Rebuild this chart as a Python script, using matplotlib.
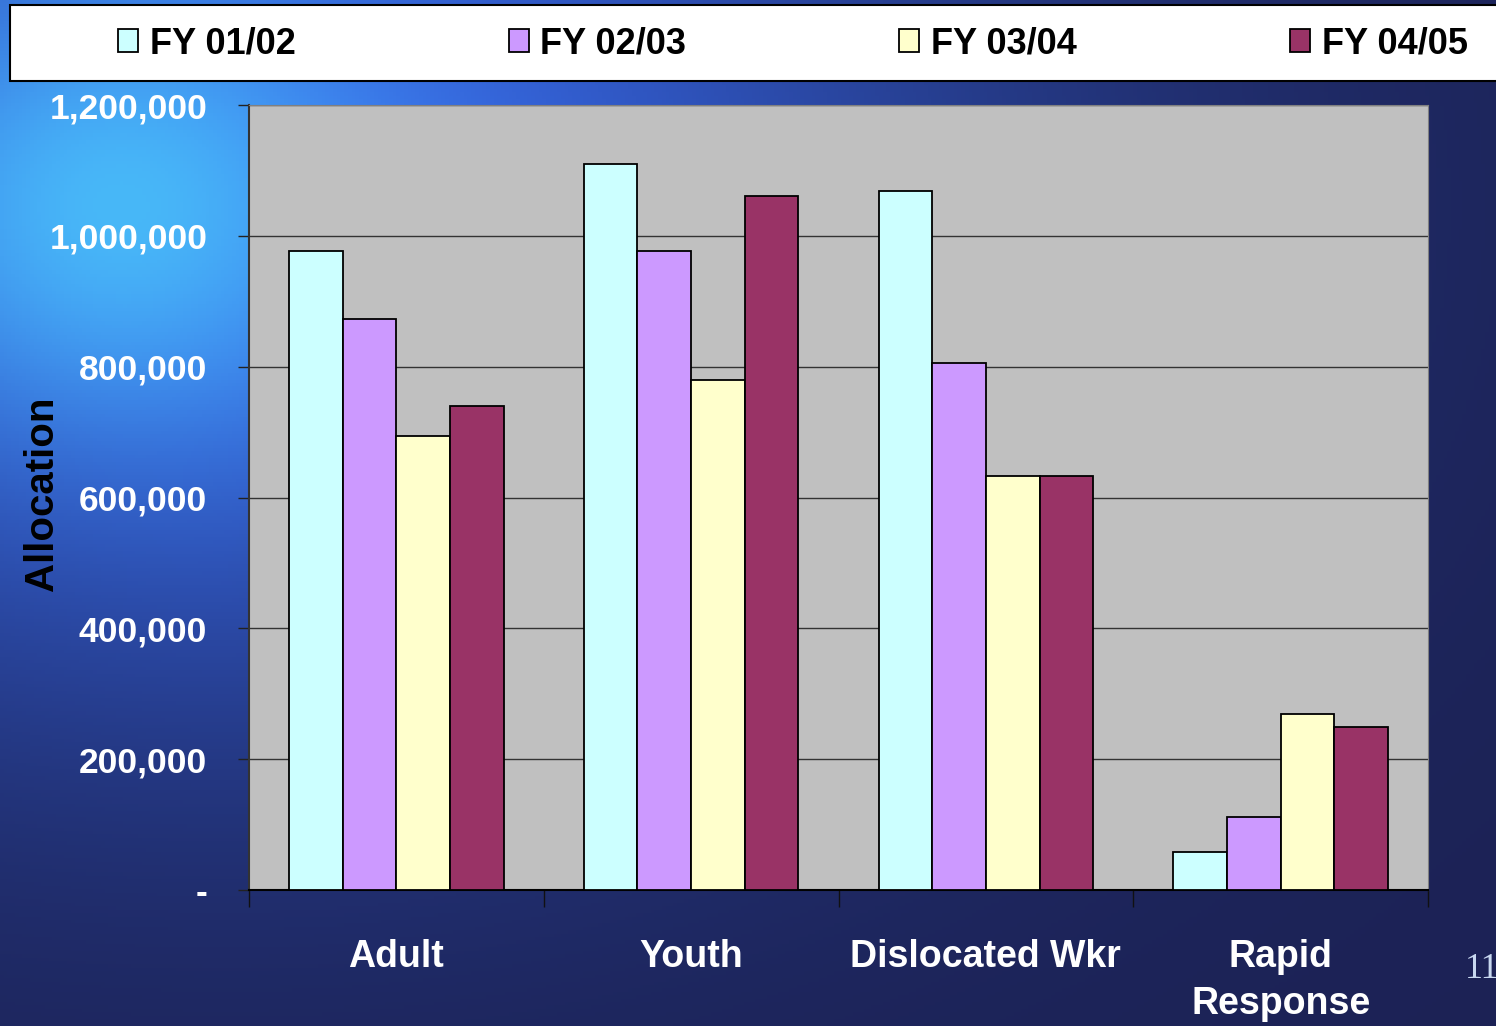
import numpy as np
import matplotlib
matplotlib.use("Agg")
import matplotlib.pyplot as plt
from matplotlib.patches import Rectangle
from matplotlib.ticker import FuncFormatter

plt.rcParams['font.family'] = ['Liberation Sans', 'DejaVu Sans']

# data
categories = ["Adult", "Youth", "Dislocated Wkr", "Rapid\nResponse"]
series = ["FY 01/02", "FY 02/03", "FY 03/04", "FY 04/05"]
fy0102 = [977000, 1110000, 1068000, 58000]
fy0203 = [873000, 977000, 806000, 112000]
fy0304 = [694000, 780000, 633000, 269000]
fy0405 = [740000, 1061000, 633000, 249000]
colors = ["#CCFFFF", "#CC99FF", "#FFFFCC", "#993366"]
yticks = [0, 200000, 400000, 600000, 800000, 1000000, 1200000]

values = [fy0102, fy0203, fy0304, fy0405]

W, H = 1496, 1026
fig = plt.figure(figsize=(W / 100, H / 100), dpi=100)

# slide background: blue gradient, bright top-left, dark navy elsewhere
bg = fig.add_axes([0, 0, 1, 1], zorder=-10)
u, v = np.meshgrid(np.linspace(0, 1, 400), np.linspace(0, 1, 300))
w = np.exp(-((u - 0.15) ** 2 / 0.5 ** 2 + (v - 0.2) ** 2 / 0.5 ** 2))
hl = np.exp(-((u - 0.08) ** 2 / 0.16 ** 2 + (v - 0.2) ** 2 / 0.2 ** 2))
navy = np.array([0x1C, 0x22, 0x55]) / 255
blue = np.array([0x38, 0x6C, 0xF0]) / 255
cyan = np.array([0x48, 0xB8, 0xF8]) / 255
img = navy * (1 - w[..., None]) + blue * w[..., None]
img = img * (1 - hl[..., None]) + cyan * hl[..., None]
bg.imshow(np.clip(img, 0, 1), extent=[0, 1, 0, 1], aspect='auto', origin='upper')
bg.axis('off')

ax = fig.add_axes([249 / W, 1 - 890 / H, (1428 - 249) / W, (890 - 105) / H])
ax.set_facecolor("#C0C0C0")

x = np.arange(len(categories))
bw = 0.182
for i, (vals, c) in enumerate(zip(values, colors)):
    ax.bar(x + (i - 1.5) * bw, vals, bw, color=c, edgecolor="black",
           linewidth=1.3, zorder=3, label=series[i])

ax.set_xlim(-0.5, 3.5)
ax.set_ylim(0, 1200000)
ax.set_yticks(yticks)
ax.yaxis.set_major_formatter(FuncFormatter(lambda v, p: "-" if v == 0 else f"{int(v):,}"))
ax.grid(axis='y', color="#333333", linewidth=1, zorder=1)
ax.tick_params(axis='y', direction='out', length=8, width=1, color="#222222",
               labelsize=25.5, labelcolor="white", pad=22)
for t in ax.get_yticklabels():
    t.set_fontweight('bold')

ax.set_xticks(np.arange(-0.5, 4.0, 1.0))
ax.set_xticklabels([])
ax.set_xticks(x, minor=True)
ax.set_xticklabels(categories, minor=True, fontsize=27, fontweight='bold',
                   color="white", linespacing=1.4)
ax.tick_params(axis='x', which='major', direction='out', length=12, width=1, color="#111111")
ax.tick_params(axis='x', which='minor', length=0, pad=35)

for s in ["top", "right"]:
    ax.spines[s].set_color("#808080")
ax.spines["left"].set_color("#333333")
ax.spines["bottom"].set_color("black")
ax.spines["left"].set_linewidth(1.5)
ax.spines["bottom"].set_linewidth(1.5)

fig.text(42 / W, 1 - 494 / H, "Allocation", rotation=90, fontsize=29,
         fontweight='bold', color="black", ha='center', va='center')

# legend box across the top
fig.patches.append(Rectangle((10 / W, 1 - 81 / H), 1.0, 76 / H, transform=fig.transFigure,
                             facecolor="white", edgecolor="black", linewidth=1.5, zorder=1))
handles = [Rectangle((0, 0), 1, 1, facecolor=c, edgecolor="black", linewidth=1.3) for c in colors]
leg = fig.legend(handles, series, ncol=4, loc='center left',
                 bbox_to_anchor=(118 / W, 1 - 44 / H), frameon=False, borderpad=0,
                 borderaxespad=0, handlelength=0.55, handleheight=0.61,
                 handletextpad=0.33, columnspacing=5.9,
                 prop={'size': 26, 'weight': 'bold'})
leg.set_zorder(5)

# slide number, cut by the right edge as on the slide
fig.text(1465 / W, 1 - 978 / H, "11", fontsize=26, family=['Liberation Serif', 'DejaVu Serif'],
         color="#C8D8F0", ha='left', va='baseline')

fig.savefig("out.png", dpi=100)
